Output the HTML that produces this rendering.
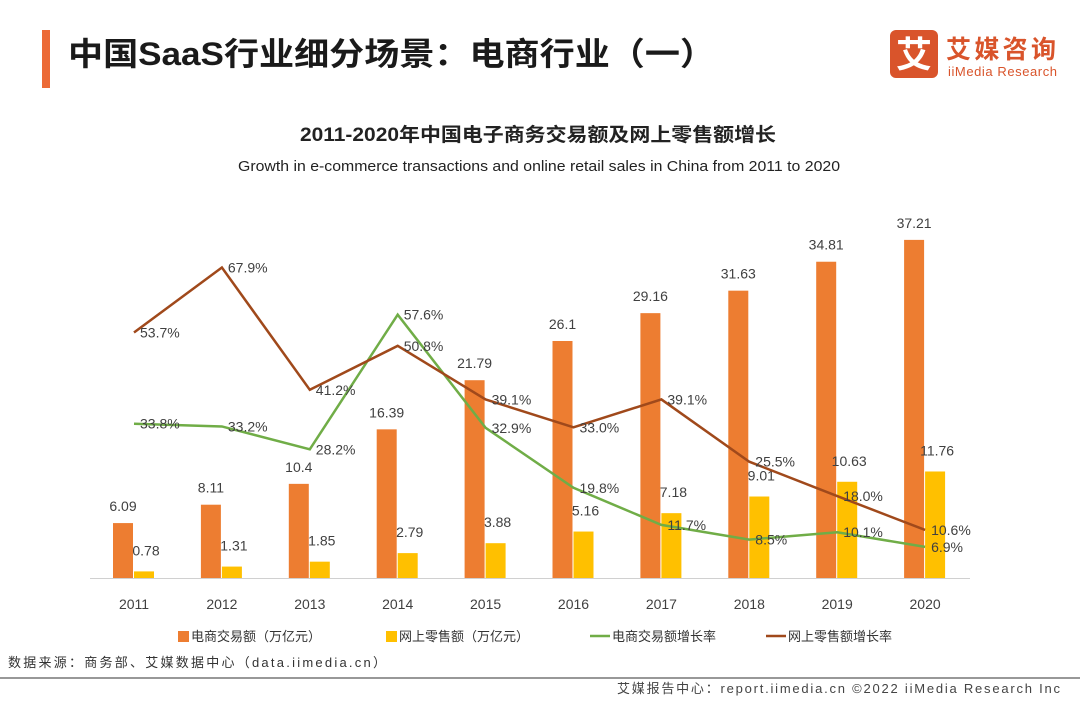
<!DOCTYPE html>
<html><head><meta charset="utf-8"><style>
body{margin:0;width:1080px;height:702px;background:#fff;overflow:hidden;font-family:"Liberation Sans","Noto Sans CJK SC",sans-serif;}
</style></head><body>
<svg width="1080" height="702" xmlns="http://www.w3.org/2000/svg" style="font-family:'Liberation Sans','Noto Sans CJK SC',sans-serif">
<rect x="42" y="30" width="8" height="58" fill="#EC6A36"/>
<text x="68" y="65" font-size="32" font-weight="bold" fill="#1a1a1a" textLength="647" lengthAdjust="spacingAndGlyphs">中国SaaS行业细分场景：电商行业（一）</text>
<g>
<rect x="890" y="30" width="48" height="48" rx="6" fill="#D9542B"/>
<text x="914" y="67" font-size="36" font-weight="bold" fill="#fff" text-anchor="middle">艾</text>
<text x="946" y="58" font-size="25" font-weight="bold" fill="#D9542B" textLength="110">艾媒咨询</text>
<text x="948" y="76" font-size="13" fill="#D9542B" textLength="109">iiMedia Research</text>
</g>
<text x="300" y="141" font-size="19" font-weight="bold" fill="#222" textLength="476" lengthAdjust="spacingAndGlyphs">2011-2020年中国电子商务交易额及网上零售额增长</text>
<text x="238" y="171" font-size="15" fill="#222" textLength="602" lengthAdjust="spacingAndGlyphs">Growth in e-commerce transactions and online retail sales in China from 2011 to 2020</text>
<g id="plot"></g>
<line x1="90" y1="578.5" x2="970" y2="578.5" stroke="#d0d0d0"/>
<g font-size="13" fill="#333">
<rect x="178" y="631" width="11" height="11" fill="#ED7D31"/><text x="191" y="641">电商交易额（万亿元）</text>
<rect x="386" y="631" width="11" height="11" fill="#FFC000"/><text x="399" y="641">网上零售额（万亿元）</text>
<line x1="590" y1="636" x2="610" y2="636" stroke="#70AD47" stroke-width="2.5"/><text x="612" y="641">电商交易额增长率</text>
<line x1="766" y1="636" x2="786" y2="636" stroke="#A0491B" stroke-width="2.5"/><text x="788" y="641">网上零售额增长率</text>
</g>
<text x="8" y="667" font-size="13" fill="#333" textLength="378">数据来源：商务部、艾媒数据中心（data.iimedia.cn）</text>
<line x1="0" y1="678" x2="1080" y2="678" stroke="#777" stroke-width="1.5"/>
<text x="617" y="693" font-size="13" fill="#444" textLength="443">艾媒报告中心：report.iimedia.cn   ©2022 iiMedia Research Inc</text>
</svg>
<script>
const years=["2011","2012","2013","2014","2015","2016","2017","2018","2019","2020"];
const transactions=[6.09,8.11,10.4,16.39,21.79,26.1,29.16,31.63,34.81,37.21];
const retail=[0.78,1.31,1.85,2.79,3.88,5.16,7.18,9.01,10.63,11.76];
const transGrowth=[33.8,33.2,28.2,57.6,32.9,19.8,11.7,8.5,10.1,6.9];
const retailGrowth=[53.7,67.9,41.2,50.8,39.1,33.0,39.1,25.5,18.0,10.6];
const NS="http://www.w3.org/2000/svg";
const g=document.getElementById('plot');
const base=578.5;
function xPos(i){return 134+i*87.9;}
function yBar(v){return base-v*9.1;}
function yPct(v){return base-v*4.58;}
function mk(tag,attrs,text){const e=document.createElementNS(NS,tag);for(const k in attrs)e.setAttribute(k,attrs[k]);if(text!==undefined)e.textContent=text;g.appendChild(e);return e;}
years.forEach((y,i)=>{
  const cx=xPos(i);
  const b1=mk('rect',{x:cx-21,y:yBar(transactions[i]),width:20,height:base-yBar(transactions[i]),fill:'#ED7D31'});
  
  
  const b2=mk('rect',{x:cx,y:yBar(retail[i]),width:20,height:base-yBar(retail[i]),fill:'#FFC000'});
  
  
  const t1=mk('text',{x:cx-11,y:yBar(transactions[i])-12,'font-size':14,'text-anchor':'middle',fill:'#404040'},String(transactions[i]));
  
  
  const t2=mk('text',{x:cx+12,y:yBar(retail[i])-16,'font-size':14,'text-anchor':'middle',fill:'#404040'},String(retail[i]));
  
  
  const xl=mk('text',{x:cx,y:609,'font-size':14,'text-anchor':'middle',fill:'#404040'},y);
  
  
});
function line(vals,color,name){
  const p=mk('polyline',{points:vals.map((v,i)=>xPos(i)+','+yPct(v)).join(' '),fill:'none',stroke:color,'stroke-width':2.5});
  
  
  vals.forEach((v,i)=>{
    const t=mk('text',{x:xPos(i)+6,y:yPct(v)+5,'font-size':14,fill:'#404040'},v.toFixed(1)+'%');
    
    
  });
}
line(transGrowth,'#70AD47','line-transactions-growth');
line(retailGrowth,'#A0491B','line-retail-growth');
</script>
</body></html>
